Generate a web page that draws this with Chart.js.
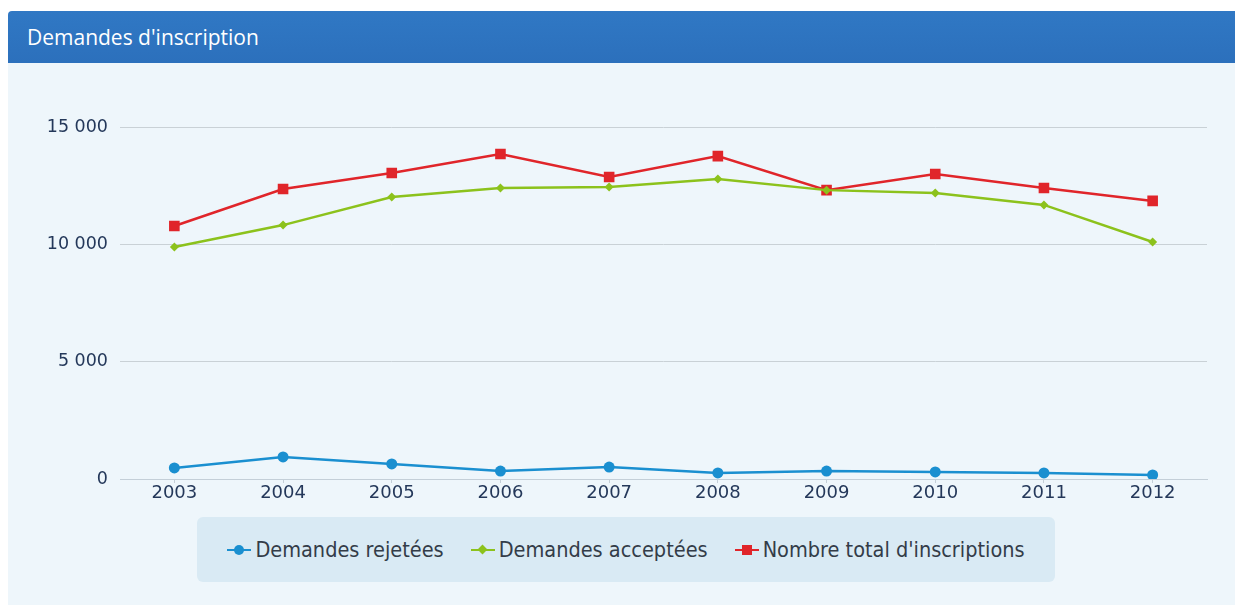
<!DOCTYPE html>
<html>
<head>
<meta charset="utf-8">
<script src="https://cdn.jsdelivr.net/npm/chart.js@4/dist/chart.umd.min.js"></script>
<style>
  html, body { margin: 0; padding: 0; background: #fff; width: 1235px; height: 605px; overflow: hidden; }
  .head { position: absolute; left: 8px; top: 11px; width: 1227px; height: 52px; background: linear-gradient(#3078c4, #2c70bc); border-radius: 4px 0 0 0; }
  .head span { position: absolute; left: 19px; top: 12px; color: #fff; font: 21px "Open Sans", sans-serif; }
  .panel { position: absolute; left: 8px; top: 63px; width: 1227px; height: 542px; background: #eef6fb; }
  #wrap { position: absolute; left: 0; top: 0; width: 1227px; height: 450px; }
  #legend { position: absolute; left: 189px; top: 454px; width: 858px; height: 65px; background: #d9eaf4; border-radius: 6px;
            display: flex; align-items: center; justify-content: center; gap: 27px; font: 21.5px "DejaVu Sans Condensed", sans-serif; color: #333c48; }
  .item { display: flex; align-items: center; }
  .sym { position: relative; width: 24px; height: 12px; margin-right: 4px; }
  .sym i { position: absolute; left: 0; right: 0; top: 5px; height: 2px; }
  .sym b { position: absolute; left: 50%; top: 50%; }
</style>
</head>
<body>
<div class="head"><span>Demandes d'inscription</span></div>
<div class="panel">
  <div id="wrap"><canvas id="c"></canvas></div>
  <div id="legend"></div>
</div>
<script>
// data
const years = ['2003', '2004', '2005', '2006', '2007', '2008', '2009', '2010', '2011', '2012'];
const rejetees = [470, 940, 640, 340, 510, 260, 340, 300, 260, 170];
const acceptees = [9890, 10820, 12020, 12400, 12440, 12780, 12310, 12190, 11680, 10100];
const total = [10780, 12360, 13040, 13850, 12870, 13760, 12310, 13000, 12400, 11850];
const yTicks = [0, 5000, 10000, 15000];

const series = [
  { label: 'Demandes rejetées', data: rejetees, color: '#1a8fd0', shape: 'circle', r: 5.5 },
  { label: 'Demandes acceptées', data: acceptees, color: '#8cc21c', shape: 'rectRot', r: 4.5 },
  { label: "Nombre total d'inscriptions", data: total, color: '#e0252a', shape: 'rect', r: 7.5 }
];

const fmt = v => String(v).replace(/\B(?=(\d{3})+(?!\d))/g, ' ');

new Chart(document.getElementById('c'), {
  type: 'line',
  data: {
    labels: years,
    datasets: series.map(s => ({
      label: s.label, data: s.data, borderColor: s.color, backgroundColor: s.color,
      borderWidth: 2.5, pointStyle: s.shape, pointRadius: s.r, pointHoverRadius: s.r,
      pointBorderWidth: 0, tension: 0
    }))
  },
  options: {
    responsive: true,
    maintainAspectRatio: false,
    animation: false,
    layout: { padding: { top: 64, right: 28, bottom: 0, left: 0 } },
    plugins: { legend: { display: false }, tooltip: { enabled: false } },
    scales: {
      x: {
        offset: true,
        grid: { drawOnChartArea: false, drawTicks: true, tickLength: 4, color: '#c4cfd8' },
        border: { color: '#c4cfd8', width: 1 },
        ticks: { color: '#24385a', font: { family: 'DejaVu Sans', size: 18 }, padding: 0, maxRotation: 0 },
        afterFit: s => { s.height = 34; }
      },
      y: {
        min: 0, max: 15000,
        afterBuildTicks: s => { s.ticks = yTicks.map(v => ({ value: v })); },
        grid: { color: '#c9d1d6', drawTicks: false },
        border: { display: false },
        ticks: { color: '#24385a', font: { family: 'DejaVu Sans', size: 17.5 }, padding: 12, callback: v => fmt(v) },
        afterFit: s => { s.width = 112; }
      }
    }
  }
});

// legend built from the series
const leg = document.getElementById('legend');
series.forEach(s => {
  const it = document.createElement('div');
  it.className = 'item';
  let mk;
  if (s.shape === 'circle') mk = 'width:10px;height:10px;margin:-5px 0 0 -5px;border-radius:50%;';
  else if (s.shape === 'rect') mk = 'width:10px;height:10px;margin:-5px 0 0 -5px;';
  else mk = 'width:7px;height:7px;margin:-3.5px 0 0 -3.5px;transform:rotate(45deg);';
  it.innerHTML = '<span class="sym"><i style="background:' + s.color + '"></i><b style="background:' + s.color + ';' + mk + '"></b></span><span>' + s.label + '</span>';
  leg.appendChild(it);
});
</script>
</body>
</html>
